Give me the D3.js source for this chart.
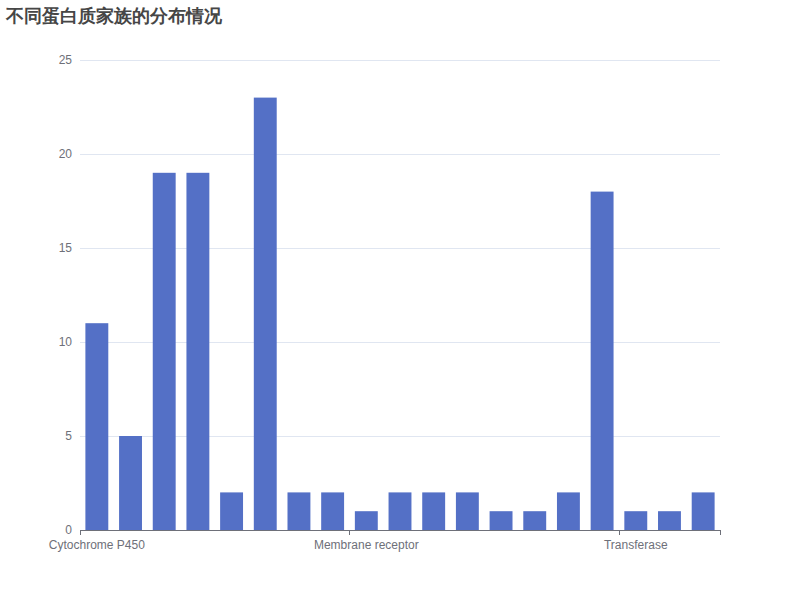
<!DOCTYPE html>
<html>
<head>
<meta charset="utf-8">
<script src="https://cdn.jsdelivr.net/npm/d3@7/dist/d3.min.js"></script>
<style>
html,body{margin:0;padding:0;background:#fff;}
svg{display:block;}
</style>
</head>
<body>
<svg id="chart" width="800" height="600"></svg>
<script>
const titleText = "不同蛋白质家族的分布情况";
const categories = [
  "Cytochrome P450", "Enzyme", "Kinase", "Protease", "Phosphatase",
  "Ion channel", "Transporter", "Nuclear receptor", "Membrane receptor",
  "Hydrolase", "Oxidoreductase", "Lyase", "Isomerase", "Ligase",
  "Epigenetic regulator", "Other cytosolic protein", "Transferase",
  "Secreted protein", "Unclassified protein"
];
const values = [11, 5, 19, 19, 2, 23, 2, 2, 1, 2, 2, 2, 1, 1, 2, 18, 1, 1, 2];
const yTicks = [0, 5, 10, 15, 20, 25];
const labelInterval = 8;

const svg = d3.select("#chart");
const font = "sans-serif";
const gLeft = 80, gRight = 720, gTop = 60, gBottom = 530;

const x = d3.scaleBand().domain(categories).range([gLeft, gRight]).paddingInner(0.32).paddingOuter(0.16);
const xb = d3.scaleBand().domain(categories).range([gLeft, gRight]);
const y = d3.scaleLinear().domain([0, 25]).range([gBottom, gTop]);

// title
svg.append("text").attr("x", 6).attr("y", 22)
  .attr("font-family", font).attr("font-size", 18).attr("font-weight", "bold")
  .attr("fill", "#464646").text(titleText);

// grid
const yAxis = d3.axisLeft(y).tickValues(yTicks).tickSize(-(gRight - gLeft)).tickPadding(8);
const gy = svg.append("g").attr("transform", `translate(${gLeft},0)`).call(yAxis);
gy.select(".domain").remove();
gy.selectAll(".tick line").attr("stroke", "#E0E6F1");
gy.selectAll(".tick").filter(d => d === 0).select("line").remove();
gy.selectAll(".tick text").attr("fill", "#6E7079").attr("font-size", 12).attr("font-family", font);

// bars
svg.append("g").selectAll("rect").data(values).join("rect")
  .attr("x", (d, i) => x(categories[i]))
  .attr("width", x.bandwidth())
  .attr("y", d => y(d))
  .attr("height", d => y(0) - y(d))
  .attr("fill", "#5470C6");

// x axis
const gx = svg.append("g").attr("transform", `translate(0,${gBottom})`);
gx.append("line").attr("x1", gLeft).attr("x2", gRight).attr("y1", 0.5).attr("y2", 0.5)
  .attr("stroke", "#6E7079");
const tickIdx = categories.map((c, i) => i).filter(i => i % labelInterval === 0);
gx.selectAll("line.tk").data(tickIdx.concat([categories.length])).join("line").attr("class", "tk")
  .attr("x1", i => Math.round(i < categories.length ? xb(categories[i]) : gRight) + 0.5)
  .attr("x2", i => Math.round(i < categories.length ? xb(categories[i]) : gRight) + 0.5)
  .attr("y1", 0).attr("y2", 5).attr("stroke", "#6E7079");
gx.selectAll("text.lb").data(tickIdx).join("text").attr("class", "lb")
  .attr("x", i => xb(categories[i]) + xb.bandwidth() / 2)
  .attr("y", 19)
  .attr("text-anchor", "middle")
  .attr("font-family", font).attr("font-size", 12).attr("fill", "#6E7079")
  .text(i => categories[i]);
</script>
</body>
</html>
